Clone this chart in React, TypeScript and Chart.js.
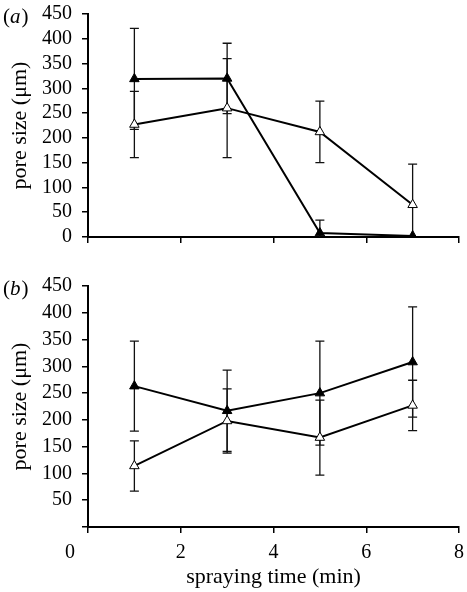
import React, { useEffect, useRef } from 'react';
import { Chart, registerables } from 'chart.js';

Chart.register(...registerables);

// ---- data ----
const times = [1, 3, 5, 7];
const xTickValues = [0, 2, 4, 6, 8];
const yTickValues = [0, 50, 100, 150, 200, 250, 300, 350, 400, 450];

// panel (a)
const aFilled = [319, 320, 8, 2];
const aFilledErr = [102, 71, 26, 0];
const aOpen = [227, 260, 212, 65];
const aOpenErr = [67, 100, 62, 82];

// panel (b)
const bFilled = [263, 217, 250, 308];
const bFilledErr = [84, 76, 97, 103];
const bOpen = [114, 198, 167, 227];
const bOpenErr = [47, 60, 70, 47];

const FONT = '"Liberation Serif", "Times New Roman", serif';
const W = 467;

const errorBarPlugin = {
  id: 'errorBars',
  beforeDatasetsDraw(chart: any, _args: any, opts: any) {
    const { ctx, chartArea, scales } = chart;
    const errs: number[][] = opts.errors || [];
    ctx.save();
    ctx.beginPath();
    ctx.rect(chartArea.left, chartArea.top - 30, chartArea.right - chartArea.left, chartArea.bottom - chartArea.top + 30);
    ctx.clip();
    ctx.strokeStyle = '#111';
    ctx.lineWidth = 1.3;
    chart.data.datasets.forEach((ds: any, i: number) => {
      const e = errs[i];
      if (!e) return;
      ds.data.forEach((p: any, j: number) => {
        const err = e[j];
        if (!err) return;
        const x = scales.x.getPixelForValue(p.x);
        const yt = scales.y.getPixelForValue(p.y + err);
        const yb = scales.y.getPixelForValue(p.y - err);
        ctx.beginPath();
        ctx.moveTo(x, yt);
        ctx.lineTo(x, yb);
        ctx.moveTo(x - 4.5, yt);
        ctx.lineTo(x + 4.5, yt);
        ctx.moveTo(x - 4.5, yb);
        ctx.lineTo(x + 4.5, yb);
        ctx.stroke();
      });
    });
    ctx.restore();
  },
};

const labelPlugin = {
  id: 'panelLabel',
  afterDraw(chart: any, _args: any, opts: any) {
    const { ctx, chartArea, scales } = chart;
    ctx.save();
    ctx.fillStyle = '#000';
    ctx.textBaseline = 'middle';
    ctx.textAlign = 'left';
    const y = chartArea.top + 3;
    let x = 3;
    ctx.font = `21px ${FONT}`;
    ctx.fillText('(', x, y);
    x += ctx.measureText('(').width;
    ctx.font = `italic 21px ${FONT}`;
    ctx.fillText(opts.letter, x, y);
    x += ctx.measureText(opts.letter).width + 1;
    ctx.font = `21px ${FONT}`;
    ctx.fillText(')', x, y);
    if (opts.zero) {
      const xs = scales.x;
      ctx.textAlign = 'center';
      ctx.font = `20px ${FONT}`;
      ctx.fillText('0', xs.getPixelForValue(0) - 18, xs.top + 6 + 8 + 12);
    }
    ctx.restore();
  },
};

function makeConfig(
  filled: number[], filledErr: number[], open: number[], openErr: number[],
  letter: string, bottom: boolean, topPad: number, xHeight: number
): any {
  return {
    type: 'line',
    data: {
      datasets: [
        {
          label: 'open',
          data: times.map((t, i) => ({ x: t, y: open[i] })),
          borderColor: '#000',
          borderWidth: 2,
          pointStyle: 'triangle',
          pointRadius: 5.5,
          pointBackgroundColor: '#fff',
          pointBorderColor: '#000',
          pointBorderWidth: 1,
          tension: 0,
        },
        {
          label: 'filled',
          data: times.map((t, i) => ({ x: t, y: filled[i] })),
          borderColor: '#000',
          borderWidth: 2,
          pointStyle: 'triangle',
          pointRadius: 5.5,
          pointBackgroundColor: '#000',
          pointBorderColor: '#000',
          pointBorderWidth: 1,
          tension: 0,
        },
      ],
    },
    options: {
      responsive: false,
      animation: false,
      devicePixelRatio: 1,
      layout: { padding: { top: topPad, right: 8, left: 0, bottom: 0 } },
      plugins: {
        legend: { display: false },
        tooltip: { enabled: false },
        errorBars: { errors: [openErr, filledErr] },
        panelLabel: { letter, zero: bottom },
      },
      scales: {
        x: {
          type: 'linear',
          min: 0,
          max: 8,
          afterBuildTicks: (s: any) => { s.ticks = xTickValues.map((v) => ({ value: v })); },
          afterFit: (s: any) => {
            s.height = xHeight;
            s.paddingLeft = 0;
            s.paddingRight = 0;
          },
          border: { display: true, color: '#000', width: 2 },
          grid: { display: true, drawOnChartArea: false, drawTicks: true, tickLength: 6, color: '#000', lineWidth: 1.5 },
          ticks: {
            autoSkip: false,
            maxRotation: 0,
            padding: 8,
            color: '#000',
            font: { family: FONT, size: 20 },
            callback: (v: any) => (!bottom || v === 0 ? '' : String(v)),
          },
          title: {
            display: bottom,
            text: 'spraying time (min)',
            color: '#000',
            font: { family: FONT, size: 22 },
            padding: { top: 0, bottom: 2 },
          },
        },
        y: {
          type: 'linear',
          min: 0,
          max: 450,
          afterBuildTicks: (s: any) => { s.ticks = yTickValues.map((v) => ({ value: v })); },
          afterFit: (s: any) => {
            s.width = 88;
            s.paddingTop = 0;
            s.paddingBottom = 0;
          },
          border: { display: true, color: '#000', width: 2 },
          grid: { display: true, drawOnChartArea: false, drawTicks: true, tickLength: 6, color: '#000', lineWidth: 1.5 },
          ticks: {
            autoSkip: false,
            padding: 10,
            color: '#000',
            font: { family: FONT, size: 20 },
            callback: (v: any) => (bottom && v === 0 ? '' : String(v)),
          },
          title: {
            display: true,
            text: 'pore size (\u03bcm)',
            color: '#000',
            font: { family: FONT, size: 22 },
            padding: { top: 7, bottom: 0 },
          },
        },
      },
    },
    plugins: [errorBarPlugin, labelPlugin],
  };
}

export default function App() {
  const refA = useRef<HTMLCanvasElement>(null);
  const refB = useRef<HTMLCanvasElement>(null);

  useEffect(() => {
    const a = new Chart(refA.current!, makeConfig(aFilled, aFilledErr, aOpen, aOpenErr, 'a', false, 14, 13));
    const b = new Chart(refB.current!, makeConfig(bFilled, bFilledErr, bOpen, bOpenErr, 'b', true, 36, 65));
    return () => {
      a.destroy();
      b.destroy();
    };
  }, []);

  return (
    <div style={{ position: 'absolute', left: 0, top: 0, width: W, height: 592, background: '#fff' }}>
      <canvas ref={refA} width={W} height={250} style={{ position: 'absolute', left: 0, top: 0, width: W, height: 250 }} />
      <canvas ref={refB} width={W} height={342} style={{ position: 'absolute', left: 0, top: 250, width: W, height: 342 }} />
    </div>
  );
}
